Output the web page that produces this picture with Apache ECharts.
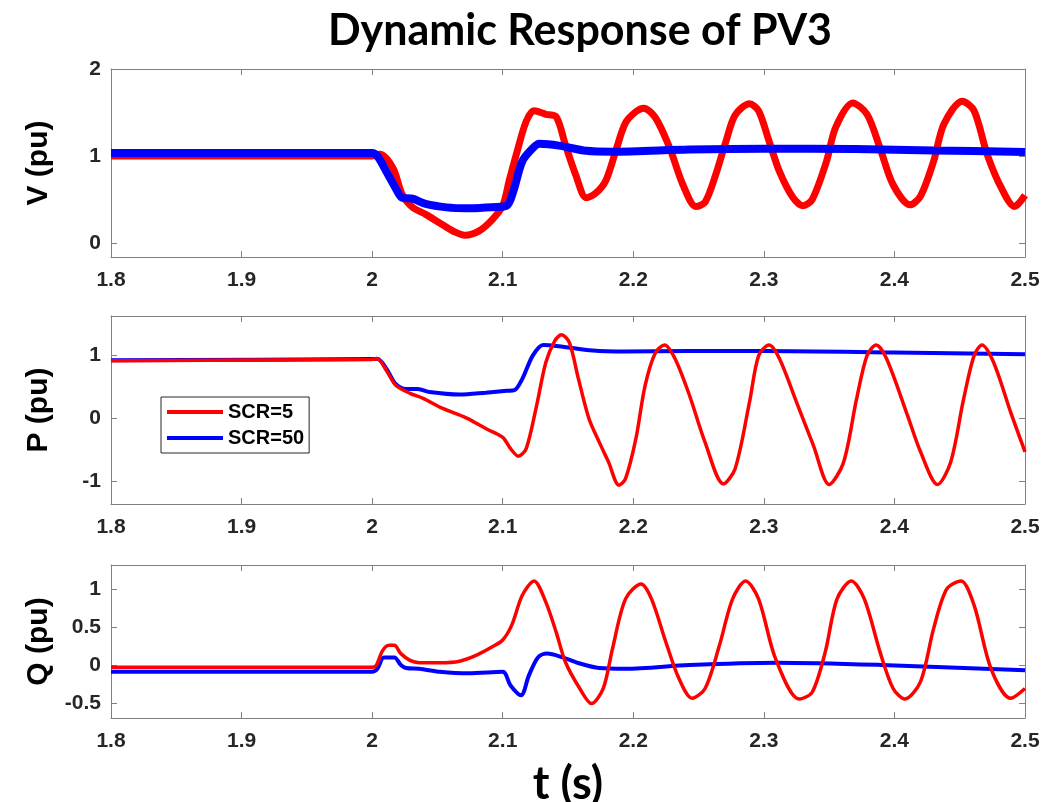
<!DOCTYPE html>
<html>
<head>
<meta charset="utf-8">
<script src="https://cdn.jsdelivr.net/npm/echarts@6/dist/echarts.min.js"></script>
<style>html,body{margin:0;padding:0;background:#fff}#c{width:1061px;height:802px}</style>
</head>
<body>
<div id="c"></div>
<script>
const title = 'Dynamic Response of PV3';
const xName = 't (s)';
const seriesNames = ['SCR=5', 'SCR=50'];
const xTicks = [1.8, 1.9, 2.0, 2.1, 2.2, 2.3, 2.4, 2.5];
const vTicks = [0, 1, 2];
const pTicks = [-1, 0, 1];
const qTicks = [-0.5, 0, 0.5, 1];

// V (pu), SCR=5
const tV5 = [1.8,2.0,2.006,2.016,2.023,2.031,2.041,2.054,2.063,2.071,2.082,2.092,2.100,2.105,2.111,2.118,2.124,2.133,2.141,2.148,2.156,2.164,2.171,2.179,2.187,2.194,2.202,2.208,2.217,2.228,2.238,2.248,2.255,2.263,2.271,2.278,2.289,2.296,2.304,2.312,2.322,2.330,2.337,2.348,2.355,2.368,2.379,2.389,2.399,2.412,2.420,2.430,2.438,2.452,2.461,2.471,2.482,2.492,2.500];
const V5 = [1.0,1.0,1.02,0.86,0.56,0.41,0.33,0.21,0.13,0.09,0.14,0.27,0.43,0.72,1.05,1.40,1.52,1.48,1.45,1.13,0.78,0.52,0.57,0.72,1.08,1.38,1.51,1.55,1.44,1.09,0.67,0.42,0.47,0.78,1.17,1.47,1.60,1.52,1.17,0.82,0.53,0.43,0.50,0.94,1.33,1.61,1.48,1.09,0.67,0.44,0.54,0.94,1.37,1.63,1.52,1.02,0.63,0.42,0.55];
// V (pu), SCR=50
const tV50 = [1.8,2.0,2.004,2.011,2.018,2.023,2.031,2.041,2.057,2.072,2.087,2.103,2.108,2.115,2.123,2.128,2.143,2.164,2.184,2.243,2.30,2.37,2.43,2.50];
const V50 = [1.035,1.035,1.0,0.82,0.63,0.52,0.51,0.45,0.41,0.40,0.41,0.43,0.59,0.94,1.09,1.14,1.12,1.06,1.05,1.075,1.085,1.08,1.065,1.046];
// P (pu), SCR=5
const tP5 = [1.8,2.0,2.004,2.011,2.018,2.029,2.039,2.054,2.072,2.087,2.100,2.106,2.112,2.118,2.126,2.133,2.140,2.145,2.151,2.158,2.166,2.174,2.181,2.189,2.194,2.202,2.209,2.217,2.224,2.232,2.243,2.255,2.269,2.278,2.289,2.296,2.304,2.312,2.325,2.338,2.350,2.361,2.371,2.379,2.386,2.394,2.410,2.420,2.433,2.443,2.453,2.461,2.467,2.476,2.489,2.500];
const P5 = [0.92,0.94,0.95,0.76,0.53,0.40,0.32,0.16,0.01,-0.16,-0.30,-0.48,-0.60,-0.48,0.21,0.89,1.24,1.33,1.21,0.63,0.0,-0.38,-0.69,-1.06,-0.96,-0.32,0.52,1.05,1.17,0.95,0.37,-0.38,-1.04,-0.80,0.26,1.0,1.17,0.95,0.26,-0.43,-1.05,-0.70,0.31,1.0,1.17,0.95,0.05,-0.53,-1.05,-0.70,0.31,1.0,1.17,0.89,0.10,-0.53];
// P (pu), SCR=50
const tP50 = [1.8,2.0,2.004,2.011,2.018,2.026,2.035,2.044,2.067,2.087,2.103,2.109,2.115,2.123,2.131,2.143,2.169,2.194,2.243,2.30,2.40,2.50];
const P50 = [0.925,0.945,0.95,0.79,0.55,0.47,0.47,0.42,0.38,0.41,0.44,0.45,0.63,1.0,1.17,1.15,1.08,1.065,1.075,1.075,1.05,1.02];
// Q (pu), SCR=5
const tQ5 = [1.8,2.0,2.003,2.008,2.013,2.017,2.022,2.029,2.036,2.052,2.067,2.080,2.092,2.100,2.107,2.115,2.124,2.133,2.141,2.148,2.159,2.168,2.177,2.184,2.194,2.206,2.214,2.225,2.235,2.245,2.255,2.266,2.276,2.286,2.296,2.309,2.327,2.337,2.347,2.356,2.367,2.377,2.389,2.399,2.408,2.420,2.430,2.440,2.451,2.461,2.474,2.489,2.500];
const Q5 = [-0.03,-0.03,-0.01,0.19,0.26,0.26,0.15,0.06,0.03,0.03,0.05,0.13,0.24,0.33,0.53,0.92,1.11,0.83,0.43,0.04,-0.31,-0.51,-0.31,0.21,0.87,1.07,0.87,0.30,-0.18,-0.44,-0.31,0.26,0.87,1.11,0.87,0.08,-0.45,-0.36,0.17,0.87,1.11,0.87,0.17,-0.31,-0.45,-0.22,0.48,1.0,1.11,0.79,-0.05,-0.44,-0.31];
// Q (pu), SCR=50
const tQ50 = [1.8,2.0,2.004,2.009,2.017,2.022,2.026,2.036,2.052,2.074,2.100,2.106,2.114,2.120,2.127,2.134,2.146,2.159,2.174,2.194,2.243,2.31,2.39,2.50];
const Q50 = [-0.09,-0.09,-0.05,0.10,0.10,0.0,-0.04,-0.05,-0.09,-0.11,-0.09,-0.27,-0.40,-0.14,0.10,0.15,0.10,0.02,-0.04,-0.05,0.0,0.03,0.0,-0.07];

const zip = (t, v) => t.map((x, i) => [x, v[i]]);

const RED = '#ff0000', BLUE = '#0000ff';
const axisGrey = '#808080';
const labelStyle = {color: '#262626', fontSize: 21, fontWeight: 'bold', fontFamily: 'Liberation Sans'};

const grids = [
  {left: 111, top: 69, width: 914, height: 188},
  {left: 111, top: 316, width: 914, height: 188},
  {left: 111, top: 565, width: 914, height: 153}
];
const yRanges = [[-0.16, 2], [-1.36, 1.63], [-0.70, 1.32]];
const yTickSets = [vTicks, pTicks, qTicks];
const yNames = ['V (pu)', 'P (pu)', 'Q (pu)'];

const xAxes = [], yAxes = [];
grids.forEach((g, i) => {
  xAxes.push({
    type: 'value', gridIndex: i, min: 1.8, max: 2.5, position: 'bottom',
    axisLine: {show: true, onZero: false, lineStyle: {color: axisGrey, width: 1}},
    axisTick: {show: true, inside: true, length: 6, customValues: xTicks, lineStyle: {color: axisGrey}},
    axisLabel: {show: true, customValues: xTicks, margin: 13, ...labelStyle,
      formatter: v => String(+v.toFixed(1))},
    splitLine: {show: false}
  });
  xAxes.push({
    type: 'value', gridIndex: i, min: 1.8, max: 2.5, position: 'top',
    axisLine: {show: true, onZero: false, lineStyle: {color: axisGrey, width: 1}},
    axisTick: {show: true, inside: true, length: 6, customValues: xTicks, lineStyle: {color: axisGrey}},
    axisLabel: {show: false}, splitLine: {show: false}
  });
  yAxes.push({
    type: 'value', gridIndex: i, min: yRanges[i][0], max: yRanges[i][1], position: 'left',
    axisLine: {show: true, onZero: false, lineStyle: {color: axisGrey, width: 1}},
    axisTick: {show: true, inside: true, length: 6, customValues: yTickSets[i], lineStyle: {color: axisGrey}},
    axisLabel: {show: true, customValues: yTickSets[i], margin: 10, ...labelStyle},
    splitLine: {show: false},
    name: yNames[i], nameLocation: 'middle', nameGap: 57, nameRotate: 90,
    nameTextStyle: {fontSize: 30, fontWeight: 'bold', color: '#000', fontFamily: 'Liberation Sans'}
  });
  yAxes.push({
    type: 'value', gridIndex: i, min: yRanges[i][0], max: yRanges[i][1], position: 'right',
    axisLine: {show: true, onZero: false, lineStyle: {color: axisGrey, width: 1}},
    axisTick: {show: true, inside: true, length: 6, customValues: yTickSets[i], lineStyle: {color: axisGrey}},
    axisLabel: {show: false}, splitLine: {show: false}
  });
});

function line(name, data, gi, color, width) {
  return {
    name, type: 'line', data, xAxisIndex: gi * 2, yAxisIndex: gi * 2,
    showSymbol: false, symbol: 'none', smooth: 0.3,
    lineStyle: {color, width}, itemStyle: {color}, animation: false, silent: true
  };
}

const series = [
  line(seriesNames[0], zip(tV5, V5), 0, RED, 7),
  line(seriesNames[1], zip(tV50, V50), 0, BLUE, 8),
  line(seriesNames[1], zip(tP50, P50), 1, BLUE, 4),
  line(seriesNames[0], zip(tP5, P5), 1, RED, 3.5),
  line(seriesNames[1], zip(tQ50, Q50), 2, BLUE, 4),
  line(seriesNames[0], zip(tQ5, Q5), 2, RED, 3.5)
];

const chart = echarts.init(document.getElementById('c'), null, {renderer: 'canvas'});
chart.setOption({
  backgroundColor: '#fff',
  animation: false,
  graphic: [
    {type: 'text', x: 580, y: 31, silent: true,
     style: {text: title, align: 'center', verticalAlign: 'middle', fill: '#000',
             font: 'bold 43px Lato'}},
    {type: 'text', x: 568, y: 784, silent: true,
     style: {text: xName, align: 'center', verticalAlign: 'middle', fill: '#000',
             font: 'bold 45px Lato'}}
  ],
  legend: {
    data: seriesNames, orient: 'vertical', left: 161, top: 397,
    icon: 'rect', itemWidth: 56, itemHeight: 4, itemGap: 6,
    padding: [5, 5, 5, 6],
    backgroundColor: '#fff', borderColor: '#262626', borderWidth: 1,
    textStyle: {fontSize: 20, fontWeight: 'bold', color: '#000', fontFamily: 'Liberation Sans'}
  },
  grid: grids,
  xAxis: xAxes,
  yAxis: yAxes,
  series
});
</script>
</body>
</html>
